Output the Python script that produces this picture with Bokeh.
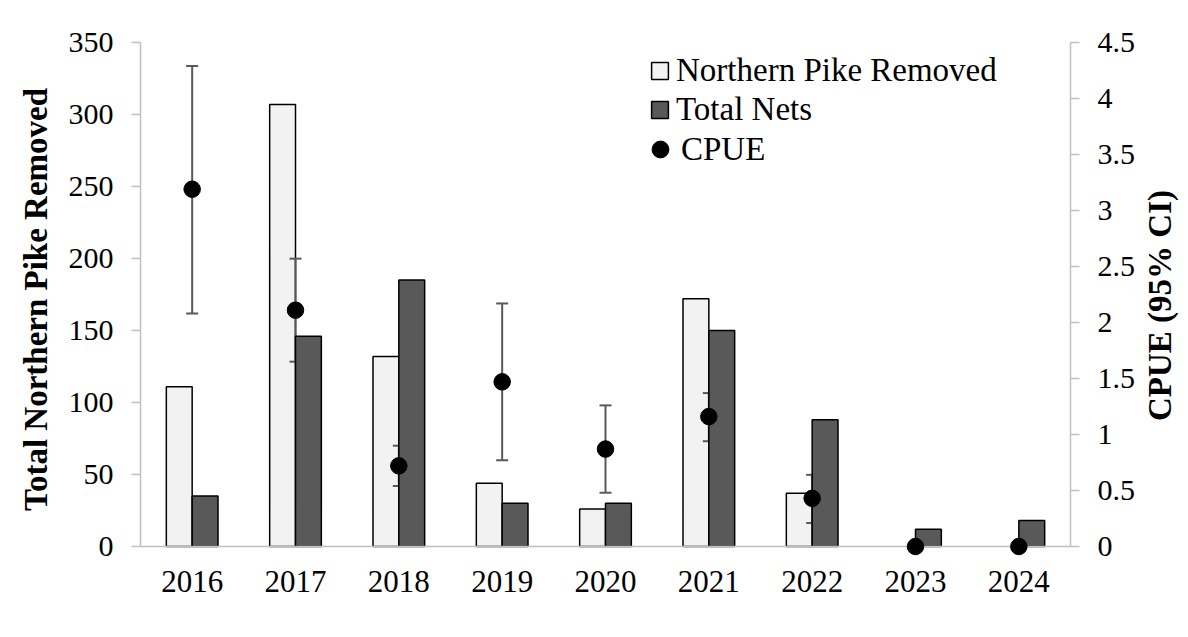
from bokeh.plotting import figure
from bokeh.layouts import row
from bokeh.models import (ColumnDataSource, Range1d, LinearAxis, FixedTicker, FactorRange,
                          Legend, LegendItem, CDSView, BooleanFilter, CustomJSTickFormatter, Div)
from bokeh.transform import dodge
from bokeh.embed import file_html
from bokeh.resources import INLINE

# ---------------- data ----------------
years = ["2016", "2017", "2018", "2019", "2020", "2021", "2022", "2023", "2024"]
pike_removed = [111, 307, 132, 44, 26, 172, 37, 0, 0]
total_nets = [35, 146, 185, 30, 30, 150, 88, 12, 18]
cpue = [3.19, 2.11, 0.72, 1.47, 0.87, 1.16, 0.43, 0.0, 0.0]
cpue_low = [2.08, 1.65, 0.54, 0.77, 0.48, 0.94, 0.21, None, None]
cpue_high = [4.29, 2.57, 0.90, 2.17, 1.26, 1.37, 0.64, None, None]
left_ticks = [0, 50, 100, 150, 200, 250, 300, 350]
right_ticks = [0, 0.5, 1, 1.5, 2, 2.5, 3, 3.5, 4, 4.5]
left_title = "Total Northern Pike Removed"
right_title = "CPUE (95% CI)"

# ---------------- styles ----------------
FONT = "Liberation Serif"
AXIS_GRAY = "#bfbfbf"
ERR_GRAY = "#595959"
LIGHT = "#f2f2f2"
DARK = "#595959"

frame_w = 930
plot_h = 504          # pixels from 0 to max
pad_px = 10           # room below zero so dots at 0 are not clipped
border_l, border_r, border_t, border_b = 140, 70, 42, 73
fig_h = border_t + plot_h + pad_px + border_b
left_max = left_ticks[-1]
right_max = right_ticks[-1]

y_left = Range1d(-left_max * pad_px / plot_h, left_max)
y_right = Range1d(-right_max * pad_px / plot_h, right_max)

p = figure(x_range=FactorRange(factors=years), y_range=y_left,
           frame_width=frame_w, frame_height=plot_h + pad_px,
           min_border_left=border_l, min_border_right=border_r,
           min_border_top=border_t, min_border_bottom=border_b,
           output_backend="svg", toolbar_location=None,
           background_fill_color="white", border_fill_color="white",
           outline_line_color=None)
p.extra_y_ranges = {"cpue": y_right}
p.xgrid.visible = False
p.ygrid.visible = False

src = ColumnDataSource(dict(year=years, pike=pike_removed, nets=total_nets, cpue=cpue))

ey = [y for y, lo in zip(years, cpue_low) if lo is not None]
elo = [lo for lo in cpue_low if lo is not None]
ehi = [hi for hi in cpue_high if hi is not None]
err_src = ColumnDataSource(dict(year=ey, low=elo, high=ehi))

bar_w = 0.25
light = p.vbar(x=dodge("year", -bar_w / 2, range=p.x_range), top="pike", width=bar_w,
               source=src, view=CDSView(filter=BooleanFilter([v > 0 for v in pike_removed])),
               fill_color=LIGHT, line_color="black", line_width=1.5)

p.segment(x0="year", y0="low", x1="year", y1="high", source=err_src, y_range_name="cpue",
          line_color=ERR_GRAY, line_width=2)
p.scatter(x="year", y="low", source=err_src, y_range_name="cpue", marker="dash",
          size=12, line_color=ERR_GRAY, line_width=2)
p.scatter(x="year", y="high", source=err_src, y_range_name="cpue", marker="dash",
          size=12, line_color=ERR_GRAY, line_width=2)

dark = p.vbar(x=dodge("year", bar_w / 2, range=p.x_range), top="nets", width=bar_w,
              source=src, fill_color=DARK, line_color="black", line_width=1.5)

p.hspan(y=[0], line_color=AXIS_GRAY, line_width=1.5)

dots = p.scatter(x="year", y="cpue", source=src, y_range_name="cpue", marker="circle",
                 size=16.5, fill_color="black", line_color="black")

# ---------------- axes ----------------
ya = p.yaxis[0]
ya.ticker = FixedTicker(ticks=left_ticks)
ya.bounds = (0, left_max)
ya.axis_label = left_title

yr = LinearAxis(y_range_name="cpue", ticker=FixedTicker(ticks=right_ticks),
                formatter=CustomJSTickFormatter(code="return tick.toString()"))
yr.bounds = (0, right_max)
p.add_layout(yr, "right")

for ax in (ya, yr):
    ax.axis_line_color = AXIS_GRAY
    ax.axis_line_width = 1.5
    ax.major_tick_line_color = AXIS_GRAY
    ax.major_tick_line_width = 1.5
    ax.major_tick_in = 0
    ax.major_tick_out = 9
    ax.minor_tick_in = 0
    ax.minor_tick_out = 0
    ax.major_label_text_font = FONT
    ax.major_label_text_font_size = "30px"
    ax.major_label_text_color = "black"
    ax.major_label_standoff = 18
    ax.axis_label_text_font = FONT
    ax.axis_label_text_font_style = "bold"
    ax.axis_label_text_font_size = "33px"
    ax.axis_label_text_color = "black"
    ax.axis_label_standoff = 12

xa = p.xaxis[0]
xa.axis_line_color = None
xa.major_tick_line_color = None
xa.major_tick_out = 0
xa.major_tick_in = 0
xa.minor_tick_out = 0
xa.major_label_standoff = 14
xa.major_label_text_font = FONT
xa.major_label_text_font_size = "31px"
xa.major_label_text_color = "black"

# ---------------- legends ----------------
def style_legend(lg):
    lg.label_text_font = FONT
    lg.label_text_font_size = "33px"
    lg.label_text_color = "black"
    lg.background_fill_alpha = 0
    lg.border_line_color = None
    lg.padding = 0
    lg.margin = 0
    lg.spacing = 0

leg_a = Legend(items=[LegendItem(label="Northern Pike Removed", renderers=[light]),
                      LegendItem(label="Total Nets", renderers=[dark])],
               location=(509, 427))
style_legend(leg_a)
leg_a.glyph_width = 21
leg_a.glyph_height = 21
leg_a.label_height = 39
leg_a.label_standoff = 6

leg_b = Legend(items=[LegendItem(label="CPUE", renderers=[dots])], location=(499, 386))
style_legend(leg_b)
leg_b.glyph_width = 42
leg_b.glyph_height = 42
leg_b.label_height = 39
leg_b.label_standoff = -6

p.add_layout(leg_a)
p.add_layout(leg_b)

# ---------------- right-hand title (reads bottom-to-top) ----------------
title_html = (
    '<div style="height:%dpx;width:40px;display:flex;align-items:center;'
    'justify-content:center;">'
    '<span style="writing-mode:vertical-rl;transform:rotate(180deg);'
    'font-family:\'%s\';font-weight:bold;font-size:33px;line-height:40px;color:black;'
    'white-space:nowrap;position:relative;top:-9px;">%s</span></div>'
    % (fig_h, FONT, right_title)
)
right_div = Div(text=title_html, width=40, height=fig_h, margin=0)

layout = row(p, right_div)

open("out.html", "w").write(file_html(layout, INLINE))
